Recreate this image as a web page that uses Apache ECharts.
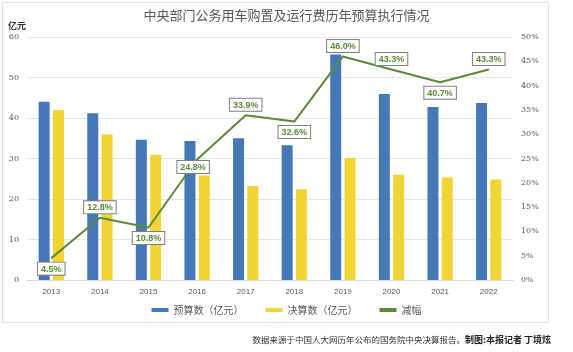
<!DOCTYPE html>
<html><head><meta charset="utf-8">
<script src="https://cdn.jsdelivr.net/npm/echarts@6/dist/echarts.min.js"></script>
<style>html,body{margin:0;padding:0;background:#fff}#c{width:573px;height:352px}</style>
</head><body><div id="c"></div>
<script>
const years = ['2013','2014','2015','2016','2017','2018','2019','2020','2021','2022'];
const budget = [44.0, 41.2, 34.6, 34.3, 35.0, 33.3, 55.7, 45.9, 42.7, 43.7];
const actual = [42.0, 35.9, 30.9, 25.8, 23.2, 22.4, 30.1, 26.0, 25.3, 24.8];
const reduction = [4.5, 12.8, 10.8, 24.8, 33.9, 32.6, 46.0, 43.3, 40.7, 43.3];
const labelPos = ['bottom','top','bottom','bottom','top','bottom','top','top','bottom','top'];

const chart = echarts.init(document.getElementById('c'), null, {renderer:'canvas'});
const green = '#5b8a3c';
const option = {
  animation:false,
  backgroundColor:'#fff',
  title:{text:'中央部门公务用车购置及运行费历年预算执行情况', left:'center', top:4,
    textStyle:{fontSize:13, fontWeight:'normal', color:'#595959', fontFamily:'Noto Sans CJK SC'}},
  graphic:[
    {type:'rect', shape:{x:2.5,y:2.5,width:546,height:320}, style:{fill:'none', stroke:'#e2e2e2', lineWidth:1}, z:-1},
    {type:'text', left:8, top:21, style:{text:'亿元', font:'bold 9px "Noto Sans CJK SC"', fill:'#333'}},
    {type:'text', right:22, top:335, style:{rich:{a:{fontSize:8.5, fontFamily:'Noto Sans CJK SC', fill:'#333'}, b:{fontSize:9, fontWeight:'bold', fontFamily:'Noto Sans CJK SC', fill:'#222'}}, text:'{a|数据来源于中国人大网历年公布的国务院中央决算报告。}{b|制图:本报记者 丁境炫}'}}
  ],
  grid:{left:27, right:60, top:37, bottom:72, containLabel:false},
  legend:{bottom:32, left:'center', itemWidth:17, itemHeight:4, itemGap:22,
    textStyle:{fontSize:10, color:'#595959', fontFamily:'Noto Sans CJK SC'},
    data:[{name:'预算数（亿元）', icon:'rect'},{name:'决算数（亿元）', icon:'rect'},{name:'减幅', icon:'rect', itemStyle:{color:green}}]},
  xAxis:{type:'category', data:years, axisTick:{show:false},
    axisLine:{lineStyle:{color:'#d9d9d9'}},
    axisLabel:{fontSize:8, color:'#595959', margin:8}},
  yAxis:[
    {type:'value', min:0, max:60, interval:10,
      axisLabel:{fontSize:8, color:'#595959', margin:8, fontFamily:'DejaVu Serif'},
      splitLine:{lineStyle:{color:'#e6e6e6'}}, axisLine:{show:false}},
    {type:'value', min:0, max:50, interval:5,
      axisLabel:{fontSize:8, color:'#595959', margin:8, formatter:'{value}%', fontFamily:'DejaVu Serif'},
      splitLine:{show:false}, axisLine:{show:false}}
  ],
  series:[
    {name:'预算数（亿元）', type:'bar', data:budget, barWidth:11, barGap:'30%', itemStyle:{color:'#4677b6'}},
    {name:'决算数（亿元）', type:'bar', data:actual, barWidth:11, itemStyle:{color:'#f1d535'}},
    {name:'减幅', type:'line', yAxisIndex:1, symbol:'circle', symbolSize:1, showSymbol:true, z:5,
      lineStyle:{color:green, width:2}, itemStyle:{color:green},
      data:reduction.map((v,i)=>({value:v, label:{position:labelPos[i], offset: i===3?[-4,-3]:[0,0]}})),
      label:{show:true, formatter:p=>p.value.toFixed(1)+'%', fontSize:9, fontWeight:'bold', color:green,
        backgroundColor:'#fff', borderColor:'#7f7f7f', borderWidth:1, padding:[2,3,1,3], distance:4}}
  ]
};
chart.setOption(option);
</script></body></html>
